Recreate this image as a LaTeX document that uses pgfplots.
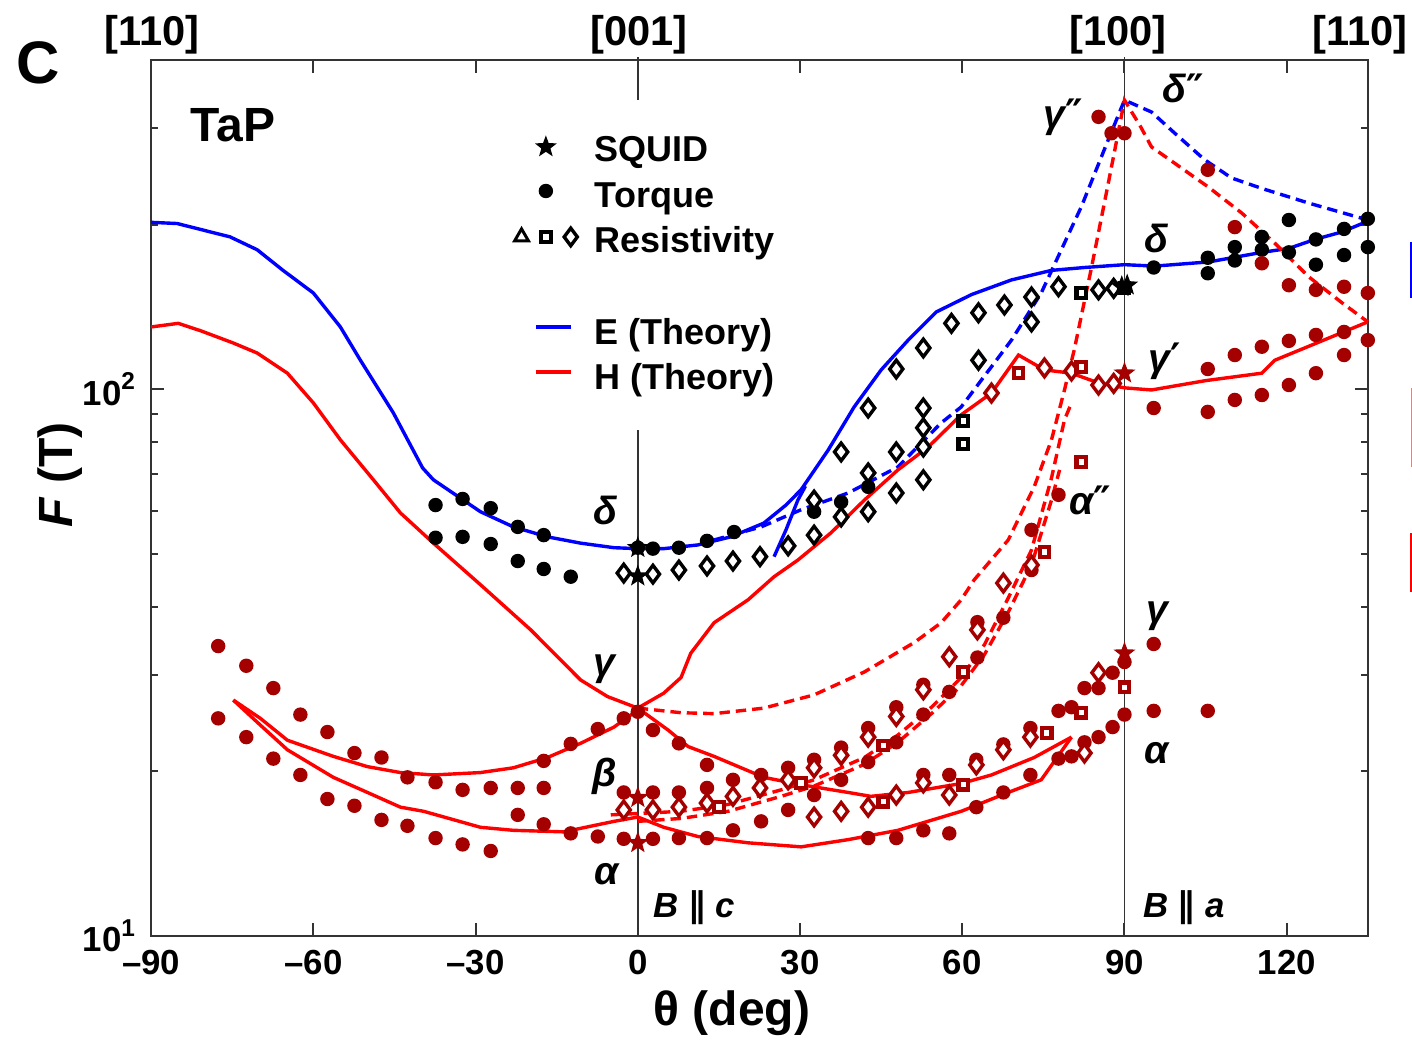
\documentclass[border=0pt]{standalone}
\usepackage{pgfplots}
\pgfplotsset{compat=1.18}
\usepackage{fontspec}
\setmainfont{Liberation Sans}
\newfontfamily\dejavu{DejaVu Sans}
\usetikzlibrary{plotmarks}
\definecolor{dred}{RGB}{165,0,0}
\definecolor{lblue}{RGB}{0,0,255}
\definecolor{lred}{RGB}{255,0,0}
\pgfdeclareplotmark{fstar}{%
 \pgfpathmoveto{\pgfpointpolar{90}{1.25\pgfplotmarksize}}%
 \pgfpathlineto{\pgfpointpolar{126}{0.52\pgfplotmarksize}}%
 \pgfpathlineto{\pgfpointpolar{162}{1.25\pgfplotmarksize}}%
 \pgfpathlineto{\pgfpointpolar{198}{0.52\pgfplotmarksize}}%
 \pgfpathlineto{\pgfpointpolar{234}{1.25\pgfplotmarksize}}%
 \pgfpathlineto{\pgfpointpolar{270}{0.52\pgfplotmarksize}}%
 \pgfpathlineto{\pgfpointpolar{306}{1.25\pgfplotmarksize}}%
 \pgfpathlineto{\pgfpointpolar{342}{0.52\pgfplotmarksize}}%
 \pgfpathlineto{\pgfpointpolar{18}{1.25\pgfplotmarksize}}%
 \pgfpathlineto{\pgfpointpolar{54}{0.52\pgfplotmarksize}}%
 \pgfpathclose\pgfusepathqfillstroke}
\pgfplotsset{
 Eline/.style={lblue, line width=0.85pt, no markers},
 Hline/.style={lred, line width=0.85pt, no markers},
 Edash/.style={lblue, line width=0.85pt, no markers, dash pattern=on 2.6pt off 1.5pt},
 Hdash/.style={lred, line width=0.85pt, no markers, dash pattern=on 2.6pt off 1.5pt},
 kdot/.style={only marks, mark=*, mark size=1.6pt, black},
 rdot/.style={only marks, mark=*, mark size=1.6pt, dred},
 kdia/.style={only marks, mark=diamond*, mark size=2.2pt, black, mark options={fill=white, line width=0.85pt}},
 rdia/.style={only marks, mark=diamond*, mark size=2.2pt, dred, mark options={fill=white, line width=0.85pt}},
 ksq/.style={only marks, mark=square*, mark size=1.2pt, black, mark options={fill=white, line width=1.05pt}},
 rsq/.style={only marks, mark=square*, mark size=1.2pt, dred, mark options={fill=white, line width=1.05pt}},
 kstar/.style={only marks, mark=fstar, mark size=1.85pt, black},
 rstar/.style={only marks, mark=fstar, mark size=1.85pt, dred},
}
\newcommand{\lab}{\fontsize{9.8}{11}\selectfont\bfseries\itshape}
\begin{document}
\begin{tikzpicture}
\begin{axis}[
  scale only axis, width=304.2pt, height=218.95pt,
  xmin=-90, xmax=135, ymode=log, ymin=10, ymax=400,
  clip=false,
  axis line style={black!80, line width=0.5pt},
  tick style={black!80, line width=0.5pt},
  tick align=inside,
  major tick length=3.2pt, minor tick length=1.8pt,
  xtick={-90,-60,-30,0,30,60,90,120},
  xticklabels={–90,–60,–30,0,30,60,90,120},
  ytick={10,100},
  yticklabels={10\textsuperscript{1},10\textsuperscript{2}},
  minor ytick={20,30,40,50,60,70,80,90,200,300},
  ticklabel style={font=\fontsize{8.7}{10}\selectfont\bfseries},
]
% reference lines
\draw[black!80, line width=0.4pt] (axis cs:0,10) -- (axis cs:0,84.3);
\draw[black!80, line width=0.4pt] (axis cs:0,338.5) -- (axis cs:0,405);
\draw[black!80, line width=0.4pt] (axis cs:90,10) -- (axis cs:90,405);
% ---- E theory (blue)
\addplot[Eline] coordinates {(-90,202) (-85.2,201) (-75.4,190) (-70.4,180) (-65.6,165) (-60,150) (-55,130) (-51.3,113) (-45.2,90.5) (-39.8,71.8) (-37.8,68.3) (-29.1,59.7) (-23,56.0) (-16.7,53.7) (-10.6,52.3) (-4.4,51.3) (0,51.1) (4.8,51.1) (11.1,51.9) (17.2,53.7) (23.3,56.9) (27.4,61.4) (30.2,65.5) (35.2,77.4) (40,92.8) (45,108.5) (50,123) (55.2,138.5) (61.7,149) (69.1,158.5) (76.5,165) (82.6,167) (90,169) (95.6,168) (105.6,171) (115.4,178) (120.4,181) (125.2,188) (130.2,194) (135,203)};
\addplot[Eline] coordinates {(25.2,49.4) (27.4,55.3) (29.6,62.7) (31,66.5)};
\addplot[Edash] coordinates {(14.1,53.0) (22.8,56.0) (30.2,60.2) (38.9,64.6) (48.1,72.1) (56.1,86.8) (59.8,92.8) (69.1,123) (74.6,150) (82,215.5) (87,286) (90,338) (95,321.5) (99.3,294) (104.8,263) (109.8,243.5) (115.4,233) (124.1,219) (135,204)};
% ---- H theory (red)
\addplot[Hline] coordinates {(-90,130) (-85,132) (-80.9,128) (-74.8,121.5) (-70.4,116.5) (-64.8,107) (-60,94.4) (-55,80.8) (-48.9,68.3) (-43.9,59.4) (-37.8,52.3) (-29.1,43.9) (-19.8,36.3) (-10.6,29.4) (-5.6,27.4) (0,26.1) (5.6,23.8) (9.3,22.2) (14.1,21.3) (23.3,19.5) (30.2,18.9) (38.9,18.3) (43.1,18.0) (50,18.3) (59.8,19.0) (65.4,19.7) (73.3,21.2) (80.2,23.1)};
\addplot[Hline] coordinates {(0,26.1) (4.8,27.8) (8,29.7) (9.8,32.9) (14.1,37.4) (20.4,41.2) (25.2,45.4) (29.6,48.7) (35.7,54.6) (41.9,62.7) (48.1,71.2) (53.7,78.4) (59.8,89.8) (65.4,98.4) (70.4,115.5) (75.2,108.5) (80.2,107) (85.2,102.7) (90,100.6) (95,99.7) (105,103.7) (115.4,107) (117.8,113) (126.5,122.6) (135,132.8)};
\addplot[Hline] coordinates {(-74.8,27.0) (-69.8,25.0) (-64.8,22.8) (-56.3,21.3) (-50,20.4) (-43.9,19.9) (-37.8,19.7) (-29.1,19.9) (-23,20.3) (-16.7,21.2) (-10.6,22.5) (-4.4,24.1) (0,25.9)};
\addplot[Hline] coordinates {(-74.8,27.0) (-69.8,24.3) (-64.8,21.9) (-56.3,19.5) (-50,18.3) (-43.9,17.2) (-39.6,16.9) (-29.1,15.8) (-23,15.6) (-13.7,15.5) (-4.4,16.2) (0,16.5) (4.8,15.8) (11.1,15.2) (20.4,14.8) (30.2,14.55) (38.9,15.0) (48.1,15.6) (59.8,16.9) (68.5,18.3) (74.6,19.3) (80.2,23.1)};
\addplot[Hdash] coordinates {(0,26.1) (8,25.6) (14.1,25.5) (23.3,26.1) (32.6,27.6) (41.9,30.4) (51.1,34.4) (56.1,37.4) (59.8,41.2) (62.2,44.8) (68.5,53.0) (73.3,66.3) (76.5,80.8) (78.9,99.7) (80.7,118) (83.9,167) (87,238) (89.4,315) (90,338) (93,302) (95,277.5) (99.3,259) (105.6,234) (111.7,210) (117.8,185) (124.1,160.5) (130.2,144) (135,132.8)};
\addplot[Hdash] coordinates {(-5,16.65) (8,16.9) (16.7,17.4) (26.5,18.5) (32.6,19.3) (41.9,21.2) (48.1,23.3) (54.3,26.2) (59.8,29.7) (64.1,34.1) (68.5,41.5) (72.8,50.8) (76.5,68.8) (78.9,87.9) (80.2,94.4)};
\addplot[Hdash] coordinates {(0,16.2) (8,16.4) (16.7,16.9) (26.5,18.0) (32.6,18.8) (41.9,20.6) (48.1,22.6) (54.3,25.5) (59.8,28.7) (64.1,32.7) (68.5,39.1) (72.8,47.7) (76.5,62.7) (78,71.2)};
% ---- black data
\addplot[kdot] coordinates {(-37.4,61.4) (-32.4,63.0) (-27.2,60.6) (-22.2,56.0) (-17.4,54.1) (-37.4,53.5) (-32.4,53.7) (-27.2,52.1) (-22.2,48.5) (-17.4,46.9) (-12.4,45.4) (0,51.3) (2.8,51.1) (7.6,51.3) (12.8,52.8) (17.8,54.8) (32.6,59.7) (37.6,62.2) (42.6,66.3) (95.4,167) (105.4,174) (105.4,163) (110.4,182) (110.4,172) (115.4,190) (115.4,180) (120.4,204) (120.4,178) (125.4,188) (125.4,169) (130.6,196.5) (130.6,176) (135,205) (135,182)};
\addplot[kdia] coordinates {(-2.6,46.1) (2.8,45.9) (7.6,46.7) (12.8,47.5) (17.6,48.5) (22.6,49.4) (27.8,51.7) (32.6,62.7) (32.6,54.1) (37.6,76.8) (37.6,58.4) (42.6,92.4) (42.6,70.3) (42.6,59.7) (47.8,108.9) (47.8,76.8) (47.8,64.6) (52.8,119) (52.8,92.4) (52.8,85.0) (52.8,78.4) (52.8,68.3) (58,132) (63,138) (63,113) (67.8,142.6) (72.8,147.5) (72.8,132.8) (77.8,154) (85.2,152) (88,153)};
\addplot[ksq] coordinates {(60.2,87.5) (60.2,79.4) (82,150) (90,153)};
\addplot[kstar] coordinates {(0,51.3) (0,45.5) (89.5,154) (90.5,155)};
% ---- red data
\addplot[rdot] coordinates {(-77.6,33.9) (-72.4,31.2) (-67.4,28.4) (-62.4,25.4) (-57.4,23.6) (-52.4,21.6) (-47.4,21.2) (-42.6,19.5) (-37.4,19.1) (-32.4,18.5) (-27.2,18.65) (-22.2,18.65) (-17.4,18.65) (-77.6,25.0) (-72.4,23.1) (-67.4,21.1) (-62.4,19.7) (-57.4,17.8) (-52.4,17.3) (-47.4,16.3) (-42.6,15.9) (-37.4,15.1) (-32.4,14.7) (-27.2,14.3) (-22.2,16.65) (-17.4,16.0) (-12.4,15.4) (-7.4,15.2) (-17.4,20.9) (-12.4,22.45) (-7.4,23.9) (-2.6,25.0) (0,25.7) (2.8,23.8) (7.6,22.5) (12.8,20.55) (-2.6,18.3) (2.8,18.3) (7.6,18.3) (12.8,18.65) (17.6,19.3) (22.8,19.7) (27.8,20.3) (32.6,21.0) (37.6,22.1) (42.6,24.0) (47.8,26.2) (52.8,28.8) (57.6,27.95) (-2.6,15.05) (2.8,15.05) (7.6,15.1) (12.8,15.1) (17.6,15.6) (22.8,16.2) (27.8,17.0) (32.6,18.1) (37.6,19.3) (42.6,20.8) (47.8,22.6) (52.8,25.4) (42.6,15.1) (47.8,15.1) (52.8,15.6) (57.6,15.4) (52.8,19.7) (57.6,19.7) (62.6,17.2) (67.6,18.3) (72.6,19.7) (77.8,21.1) (80.2,21.3) (82.6,22.6) (85.2,23.1) (87.8,24.1) (90,25.4) (95.4,25.8) (105.4,25.8) (62.6,21.0) (67.6,22.4) (72.6,24.0) (77.8,25.8) (80.2,26.2) (82.6,28.4) (85.2,28.4) (62.8,32.3) (62.8,37.5) (67.6,38.2) (72.8,55.3) (72.8,46.7) (77.8,64.1) (87.8,30.3) (90,31.7) (95.4,34.2) (95.4,92.4) (105.4,108.9) (105.4,90.9) (110.4,115.5) (110.4,95.6) (115.4,119.6) (115.4,97.6) (120.4,122.6) (120.4,101.8) (125.4,125.7) (125.4,107) (130.6,127.3) (130.6,115.5) (135,123) (105.4,252) (110.4,198) (115.4,170) (120.4,155) (125.4,152) (130.6,154) (135,150) (85.2,315) (87.6,294) (90,294)};
\addplot[rdia] coordinates {(-2.6,17.0) (2.8,17.0) (7.6,17.2) (12.8,17.5) (17.6,18.0) (22.6,18.65) (27.8,19.3) (32.6,20.3) (32.6,16.5) (37.6,21.4) (37.6,16.9) (42.6,23.1) (42.6,17.2) (47.8,25.2) (47.8,18.1) (52.8,28.2) (52.8,19.05) (57.6,18.1) (57.6,32.4) (62.8,36.3) (67.6,44.2) (72.8,47.7) (62.6,20.55) (67.6,21.9) (72.6,23.1) (82.6,21.6) (65.4,98.4) (75.2,109.4) (80.2,108) (85.2,101.8) (88,102.5) (85.2,30.3)};
\addplot[rsq] coordinates {(15,17.2) (30.2,19.05) (45.4,22.3) (45.4,17.6) (60.2,30.4) (60.2,18.9) (70.4,107) (75.2,50.4) (75.6,23.5) (82,109.8) (82,73.6) (82,25.6) (90,28.5)};
\addplot[rstar] coordinates {(0,17.9) (0,14.8) (90,32.9) (90,107)};
% ---- legend
\addplot[kstar] coordinates {(-17,277.5)};
\addplot[kdot] coordinates {(-17,230.5)};
\addplot[only marks, mark=triangle, mark size=2pt, black, mark options={line width=0.75pt}] coordinates {(-21.5,190)};
\addplot[ksq] coordinates {(-17,190)};
\addplot[kdia] coordinates {(-12.4,190)};
\addplot[Eline, line width=1.1pt] coordinates {(-18.9,130) (-12.4,130)};
\addplot[Hline, line width=1.1pt] coordinates {(-18.9,107.6) (-12.4,107.6)};
\begin{scope}[every node/.style={font=\fontsize{9}{10}\selectfont\bfseries, anchor=base west, inner sep=0pt}]
\node at (axis cs:-8.1,260.5) {SQUID};
\node at (axis cs:-8.1,214.6) {Torque};
\node at (axis cs:-8.1,178) {Resistivity};
\node at (axis cs:-8.1,120.5) {E (Theory)};
\node at (axis cs:-8.1,99.7) {H (Theory)};
\end{scope}
% ---- labels
\node[anchor=base west, inner sep=0pt, font=\fontsize{12}{14}\selectfont\bfseries] at (axis cs:-82.8,283.5) {TaP};
\node[anchor=base west, inner sep=0pt, font=\fontsize{15}{17}\selectfont\bfseries] at (axis cs:-115,363) {C};
\begin{scope}[every node/.style={font=\fontsize{10.4}{12}\selectfont\bfseries, anchor=base, inner sep=0pt}]
\node at (axis cs:-89.8,426) {[110]};
\node at (axis cs:0.2,426) {[001]};
\node at (axis cs:88.8,426) {[100]};
\node at (axis cs:133.6,426) {[110]};
\end{scope}
\begin{scope}[every node/.style={font=\lab, anchor=base, inner sep=0pt}]
\node at (axis cs:-5.9,56.5) {δ};
\node at (axis cs:-6.1,30.0) {γ};
\node at (axis cs:-6.2,18.8) {β};
\node at (axis cs:-5.7,12.4) {α};
\end{scope}
\begin{scope}[every node/.style={font=\lab, anchor=base west, inner sep=0pt}]
\node at (axis cs:96.9,335) {δ{\upshape\dejavu ″}};
\node at (axis cs:74.9,300.6) {γ{\upshape\dejavu ″}};
\node at (axis cs:93.5,178) {δ};
\node at (axis cs:94.3,107.6) {γ{\upshape\dejavu ′}};
\node at (axis cs:79.6,58.9) {α{\upshape\dejavu ″}};
\node at (axis cs:94,37.4) {γ};
\node at (axis cs:93.5,20.7) {α};
\end{scope}
\node[anchor=base west, inner sep=0pt, font=\fontsize{8.7}{10}\selectfont\bfseries\itshape] at (axis cs:2.8,10.8) {B {\dejavu\upshape ∥} c};
\node[anchor=base west, inner sep=0pt, font=\fontsize{8.7}{10}\selectfont\bfseries\itshape] at (axis cs:93.3,10.8) {B {\dejavu\upshape ∥} a};
% axis titles
\node[anchor=base, inner sep=0pt, font=\fontsize{12}{14}\selectfont\bfseries] at (axis cs:17.4,6.87) {θ (deg)};
\node[anchor=base, rotate=90, inner sep=0pt, font=\fontsize{12}{14}\selectfont\bfseries] at (axis cs:-104.6,69.7) {\textit{F} (T)};
% cropped marks of the neighbouring panel at the right edge
\draw[lblue, line width=0.6pt] (axis cs:143.1,186) -- (axis cs:143.1,146.9);
\draw[lred!55, line width=0.4pt] (axis cs:143.1,100.4) -- (axis cs:143.1,72.1);
\draw[lred, line width=0.6pt] (axis cs:143.1,54.6) -- (axis cs:143.1,42.6);
% bounding box corners
\coordinate (bbll) at (rel axis cs:-0.1242,-0.1210);
\coordinate (bbur) at (rel axis cs:1.0363,1.0687);
\end{axis}
\pgfresetboundingbox
\path[use as bounding box] (bbll) rectangle (bbur);
\end{tikzpicture}
\end{document}
